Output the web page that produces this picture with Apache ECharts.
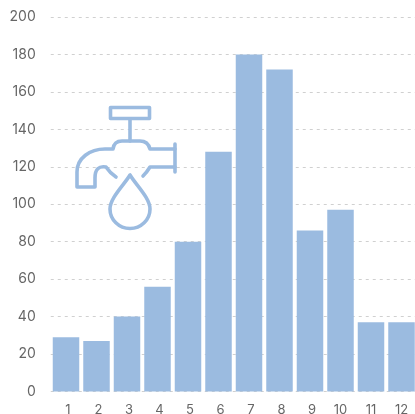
<!DOCTYPE html>
<html><head><meta charset="utf-8">
<style>html,body{margin:0;padding:0;background:#fff}#c{width:415px;height:414px}</style>
<script src="https://cdn.jsdelivr.net/npm/echarts@6/dist/echarts.min.js"></script>
</head><body><div id="c"></div>
<script>
const categories = ['1','2','3','4','5','6','7','8','9','10','11','12'];
const values = [29,27,40,56,80,128,180,172,86,97,37,37];
const iconStyle = {fill:'none',stroke:'#9bbbe0',lineWidth:3.6,lineCap:'round',lineJoin:'round'};
const iconPaths = [
 'M110.5 107.5H149.5V118.5H110.5Z',
 'M130 119V141',
 'M175 144V172',
 'M116 177Q110 173 106 167Q95 165 95 178V187H77V172C77 158 90 149 105 149H113Q114 141 122 141H140Q148 141 150 149H175',
 'M175 167H150Q147 172 143 176',
 'M130 175C124 185 110 198 110 209A20 19.5 0 0 0 150 209C150 198 136 185 130 175Z'
];
iconPaths.forEach((d,i)=>echarts.graphic.registerShape('tap'+i,echarts.graphic.extendPath(d,{})));
const chart = echarts.init(document.getElementById('c'),null,{renderer:'canvas'});
chart.setOption({
 animation:false,
 grid:{left:50.75,right:-1.75,top:17,bottom:22.5,containLabel:false,outerBoundsMode:'none'},
 xAxis:{type:'category',data:categories,
  axisLine:{show:false},axisTick:{show:false},
  axisLabel:{interval:0,color:'#666',fontSize:13,fontFamily:'Inter',margin:12,
   formatter:v=>v.length===1?'{s|'+v+'}':v,
   rich:{s:{color:'#666',fontSize:13,fontFamily:'Inter',padding:[0,0,0,4]}}},
  splitLine:{show:false}},
 yAxis:{type:'value',min:0,max:200,interval:20,
  axisLine:{show:false},axisTick:{show:false},
  axisLabel:{color:'#666',fontSize:14,fontFamily:'Inter',margin:15},
  splitLine:{show:true,lineStyle:{color:'#d0d0d0',type:[3,4],width:1}}},
 series:[{type:'bar',data:values,barWidth:26.5,itemStyle:{color:'#9bbbe0'}}],
 graphic:iconPaths.map((d,i)=>({type:'tap'+i,style:iconStyle,z:10}))
});
</script></body></html>
